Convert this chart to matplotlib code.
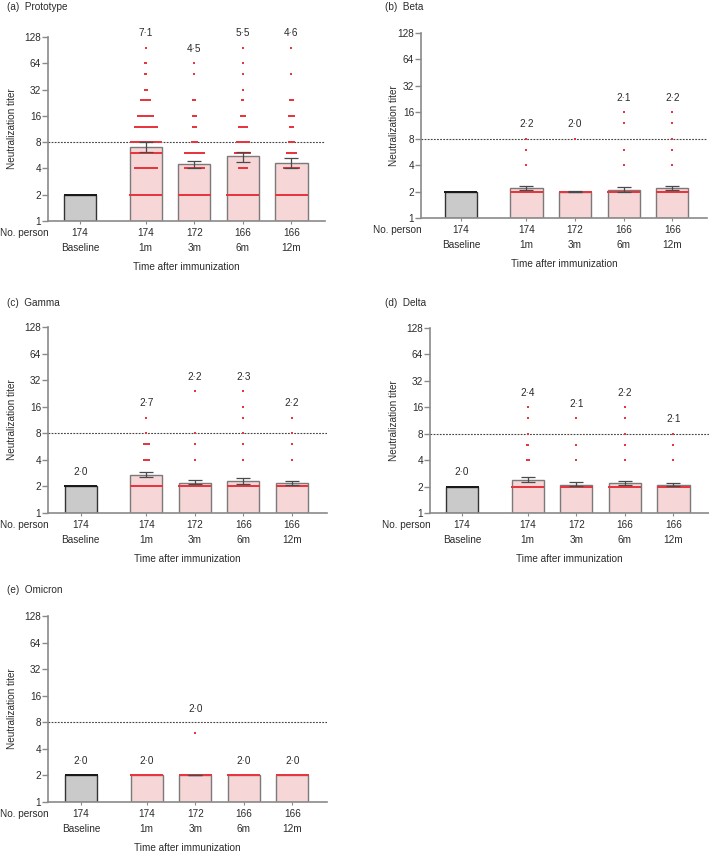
import numpy as np
import matplotlib
matplotlib.use('Agg')
import matplotlib.pyplot as plt

plt.rcParams['font.family'] = ['Liberation Sans', 'DejaVu Sans']

# categories along the x axis
groups = ['Baseline', '1m', '3m', '6m', '12m']
n_person = [174, 174, 172, 166, 166]
x_pos = [0, 1.35, 2.35, 3.35, 4.35]

# titer levels the individual points sit on
levels = [2, 4, 6, 8, 12, 16, 24, 32, 48, 64, 96]

variants = ['Prototype', 'Beta', 'Gamma', 'Delta', 'Omicron']
letters = ['a', 'b', 'c', 'd', 'e']

# geometric mean titers (bar heights)
gmt = {
    'Prototype': [2.0, 7.1, 4.5, 5.5, 4.6],
    'Beta': [2.0, 2.2, 2.0, 2.1, 2.2],
    'Gamma': [2.0, 2.7, 2.2, 2.3, 2.2],
    'Delta': [2.0, 2.4, 2.1, 2.2, 2.1],
    'Omicron': [2.0, 2.0, 2.0, 2.0, 2.0],
}
ci_low = {
    'Prototype': [2.0, 6.2, 4.0, 4.8, 4.0],
    'Beta': [2.0, 2.06, 2.0, 2.0, 2.09],
    'Gamma': [2.0, 2.53, 2.12, 2.14, 2.09],
    'Delta': [2.0, 2.28, 2.04, 2.07, 2.04],
    'Omicron': [2.0, 2.0, 2.0, 2.0, 2.0],
}
ci_high = {
    'Prototype': [2.0, 8.1, 4.9, 6.2, 5.3],
    'Beta': [2.0, 2.30, 2.03, 2.28, 2.33],
    'Gamma': [2.0, 2.93, 2.34, 2.46, 2.32],
    'Delta': [2.0, 2.59, 2.24, 2.34, 2.22],
    'Omicron': [2.0, 2.0, 2.03, 2.0, 2.0],
}
show_label = {
    'Prototype': [False, True, True, True, True],
    'Beta': [False, True, True, True, True],
    'Gamma': [True] * 5,
    'Delta': [True] * 5,
    'Omicron': [True] * 5,
}

# number of persons at each level (order of `levels`), per group
counts = {
    'Prototype': [
        [174, 0, 0, 0, 0, 0, 0, 0, 0, 0, 0],
        [45, 20, 30, 28, 20, 14, 9, 3, 2, 2, 1],
        [120, 17, 17, 5, 4, 4, 3, 0, 1, 1, 0],
        [114, 8, 14, 11, 8, 5, 2, 1, 1, 1, 1],
        [123, 14, 8, 6, 4, 5, 4, 0, 1, 0, 1],
    ],
    'Beta': [
        [174, 0, 0, 0, 0, 0, 0, 0, 0, 0, 0],
        [171, 1, 1, 1, 0, 0, 0, 0, 0, 0, 0],
        [171, 0, 0, 1, 0, 0, 0, 0, 0, 0, 0],
        [162, 1, 1, 0, 1, 1, 0, 0, 0, 0, 0],
        [161, 1, 1, 1, 1, 1, 0, 0, 0, 0, 0],
    ],
    'Gamma': [
        [174, 0, 0, 0, 0, 0, 0, 0, 0, 0, 0],
        [162, 5, 5, 1, 1, 0, 0, 0, 0, 0, 0],
        [168, 1, 1, 1, 0, 0, 1, 0, 0, 0, 0],
        [160, 1, 1, 1, 1, 1, 1, 0, 0, 0, 0],
        [162, 1, 1, 1, 1, 0, 0, 0, 0, 0, 0],
    ],
    'Delta': [
        [174, 0, 0, 0, 0, 0, 0, 0, 0, 0, 0],
        [166, 3, 2, 1, 1, 1, 0, 0, 0, 0, 0],
        [169, 1, 1, 0, 1, 0, 0, 0, 0, 0, 0],
        [161, 1, 1, 1, 1, 1, 0, 0, 0, 0, 0],
        [163, 1, 1, 1, 0, 0, 0, 0, 0, 0, 0],
    ],
    'Omicron': [
        [174, 0, 0, 0, 0, 0, 0, 0, 0, 0, 0],
        [174, 0, 0, 0, 0, 0, 0, 0, 0, 0, 0],
        [171, 0, 1, 0, 0, 0, 0, 0, 0, 0, 0],
        [166, 0, 0, 0, 0, 0, 0, 0, 0, 0, 0],
        [166, 0, 0, 0, 0, 0, 0, 0, 0, 0, 0],
    ],
}

W, H = 709, 857
# panel boxes in pixels: left, right, top, bottom, x-limit left, ylabel x, title x, title y
panels = [
    (48, 325, 37, 221, -0.66, 17, 7, 7),
    (421, 707, 33, 218, -0.82, 399, 385, 7),
    (48, 327, 327, 513, -0.67, 17, 7, 303),
    (430, 709, 328, 513, -0.66, 399, 385, 303),
    (48, 327, 616, 802, -0.68, 17, 7, 590),
]

RED = '#e8363e'
PINK = '#f6d6d7'
GREY_FILL = '#c9cac9'
AXIS = '#8a8a8a'
TXT = '#2b2b2b'
FS = 7.2
bar_w = 0.66
step = 0.024
cutoff = 8

fig = plt.figure(figsize=(W / 100, H / 100), dpi=100)

for k, var in enumerate(variants):
    l, r, t, b, xl, ylab_x, tx, ty = panels[k]
    ax = fig.add_axes([l / W, 1 - b / H, (r - l) / W, (b - t) / H])
    ax.set_yscale('log', base=2)
    ax.set_ylim(1, 128)
    ax.set_xlim(xl, xl + (r - l) / 48.6)
    ax.set_yticks([1, 2, 4, 8, 16, 32, 64, 128])
    ax.set_yticklabels(['1', '2', '4', '8', '16', '32', '64', '128'])
    ax.yaxis.set_minor_locator(matplotlib.ticker.NullLocator())
    ax.set_xticks(x_pos)
    ax.set_xticklabels([])
    ax.tick_params(axis='y', length=4, width=1, color=AXIS, labelsize=FS, labelcolor=TXT, pad=1)
    ax.tick_params(axis='x', length=2.5, width=0.8, color=AXIS)
    for s in ['top', 'right']:
        ax.spines[s].set_visible(False)
    for s in ['left', 'bottom']:
        ax.spines[s].set_color(AXIS)
        ax.spines[s].set_linewidth(1.2)
    ax.patch.set_visible(False)

    ax.set_ylabel('Neutralization titer', fontsize=FS, color=TXT)
    ax.yaxis.set_label_coords((ylab_x - l) / (r - l), 0.5)

    vals = gmt[var]
    for i, g in enumerate(groups):
        base = i == 0
        ax.bar(x_pos[i], vals[i] - 1, bottom=1, width=bar_w,
               color=GREY_FILL if base else PINK,
               edgecolor='#333333' if base else '#7a7a7a', linewidth=1.0, zorder=2)
        # individual points spread sideways at each level
        for lev, n in zip(levels, counts[var][i]):
            if n == 0:
                continue
            sp = min(step, (bar_w - 0.02) / n)
            xs = x_pos[i] + (np.arange(n) - (n - 1) / 2) * sp
            ax.scatter(xs, np.full(n, lev), s=2.2, marker='s', lw=0,
                       color='#1a1a1a' if base else RED, zorder=3)
        lo, hi = ci_low[var][i], ci_high[var][i]
        if hi > lo:
            ax.errorbar(x_pos[i], vals[i], yerr=[[vals[i] - lo], [hi - vals[i]]],
                        fmt='none', ecolor='#4a4a4a', elinewidth=0.9,
                        capsize=5.2, capthick=0.9, zorder=4)
        if show_label[var][i]:
            top = max([lev for lev, n in zip(levels, counts[var][i]) if n] + [hi])
            ly = top * 2 ** 0.55
            # keep the label clear of the dotted cutoff line
            if cutoff * 2 ** -0.4 < ly < cutoff * 2 ** 0.5:
                ly = cutoff * 2 ** 0.5
            ax.text(x_pos[i], ly, f'{vals[i]:.1f}'.replace('.', '\u00b7'),
                    ha='center', va='center', fontsize=FS, color=TXT, clip_on=False)
        ax.annotate(str(n_person[i]), xy=(x_pos[i], 0), xycoords=('data', 'axes fraction'),
                    xytext=(0, -8.6), textcoords='offset points', ha='center', va='center',
                    fontsize=FS, color=TXT)
        ax.annotate(g, xy=(x_pos[i], 0), xycoords=('data', 'axes fraction'),
                    xytext=(0, -19.4), textcoords='offset points', ha='center', va='center',
                    fontsize=FS, color=TXT)

    ax.axhline(cutoff, color='#444444', lw=0.8, ls=(0, (1.6, 1.2)), zorder=2.5)
    ax.annotate('No. person', xy=(0, 0), xycoords='axes fraction', xytext=(0.5, -8.6),
                textcoords='offset points', ha='right', va='center', fontsize=FS, color=TXT)
    ax.annotate('Time after immunization', xy=(0.5, 0), xycoords='axes fraction',
                xytext=(0, -33), textcoords='offset points', ha='center', va='center',
                fontsize=FS, color=TXT)
    fig.text(tx / W, 1 - ty / H, f'({letters[k]})  {var}', ha='left', va='center',
             fontsize=FS, color=TXT)

fig.savefig('out.png', dpi=100)
